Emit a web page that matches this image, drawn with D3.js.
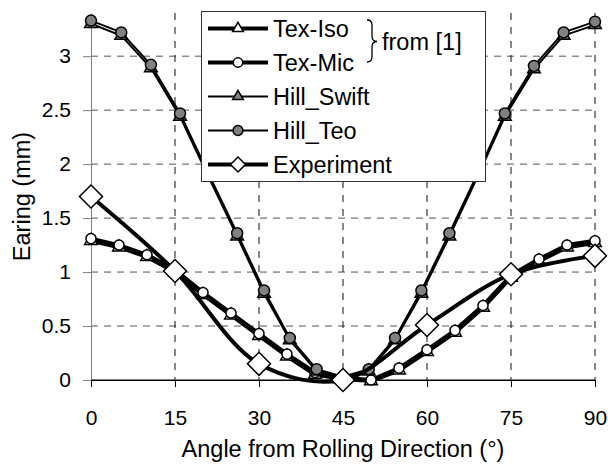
<!DOCTYPE html>
<html lang="en">
<head>
    <meta charset="UTF-8">
    <title>Earing vs Angle</title>
    <script src="https://d3js.org/d3.v7.min.js"></script>
    <style>
        body { margin: 0; background: #fff; font-family: "Liberation Sans", Arial, sans-serif; }
        svg { display: block; }
        text { font-family: "Liberation Sans", Arial, sans-serif; fill: #000; }
    </style>
</head>
<body>
    <svg width="608" height="464"></svg>
    <script>
        // data
        const texAngles = [0, 5, 10, 15, 20, 25, 30, 35, 40, 45, 50, 55, 60, 65, 70, 75, 80, 85, 90];
        const texIso = [1.29, 1.23, 1.14, 1.00, 0.79, 0.60, 0.41, 0.22, 0.05, 0.01, -0.01, 0.09, 0.26, 0.44, 0.67, 0.95, 1.10, 1.23, 1.27];
        const texMic = [1.31, 1.25, 1.16, 1.02, 0.81, 0.62, 0.43, 0.24, 0.07, 0.02, 0.00, 0.11, 0.28, 0.46, 0.69, 0.97, 1.12, 1.25, 1.29];

        const hillAngles = [0, 5.4, 10.7, 15.9, 21, 26.1, 30.9, 35.5, 40.3, 45, 49.6, 54.3, 59, 64, 69, 73.9, 79.1, 84.4, 90];
        const hillSwift = [3.30, 3.19, 2.89, 2.44, 1.88, 1.33, 0.80, 0.37, 0.08, 0.01, 0.08, 0.37, 0.80, 1.33, 1.88, 2.44, 2.88, 3.19, 3.29];
        const hillTeo = [3.33, 3.22, 2.92, 2.47, 1.91, 1.36, 0.83, 0.39, 0.10, 0.03, 0.10, 0.39, 0.83, 1.36, 1.91, 2.47, 2.91, 3.22, 3.32];

        const expAngles = [0, 15, 30, 45, 60, 75, 90];
        const experiment = [1.70, 1.01, 0.15, 0.00, 0.51, 0.98, 1.15];

        const xTicks = [0, 15, 30, 45, 60, 75, 90];
        const yTicks = [0, 0.5, 1, 1.5, 2, 2.5, 3];

        const svg = d3.select("svg");
        const plotLeft = 91, plotRight = 595, plotTop = 13, plotBottom = 380;

        const x = d3.scaleLinear().domain([0, 90]).range([plotLeft, plotRight]);
        const y = d3.scaleLinear().domain([0, 3.4]).range([plotBottom, plotTop]);

        // grid
        svg.append("g").selectAll("line").data(yTicks.filter(d => d > 0)).join("line")
            .attr("x1", plotLeft).attr("x2", plotRight)
            .attr("y1", d => y(d)).attr("y2", d => y(d))
            .attr("stroke", "#555").attr("stroke-dasharray", "7,6");
        svg.append("g").selectAll("line").data(xTicks.filter(d => d > 0)).join("line")
            .attr("x1", d => x(d)).attr("x2", d => x(d))
            .attr("y1", plotTop).attr("y2", plotBottom)
            .attr("stroke", "#111").attr("stroke-dasharray", "7,7");

        // axes
        const xAxis = svg.append("g").attr("transform", `translate(0,${plotBottom})`)
            .call(d3.axisBottom(x).tickValues(xTicks).tickSize(7).tickPadding(38).tickSizeOuter(0));
        xAxis.select(".domain").attr("stroke", "#000");
        xAxis.selectAll("text").style("font-size", "21px").attr("dy", 0);

        const yAxis = svg.append("g").attr("transform", `translate(${plotLeft},0)`)
            .call(d3.axisLeft(y).tickValues(yTicks).tickFormat(d3.format("~g"))
                .tickSize(8).tickPadding(12).tickSizeOuter(0));
        yAxis.select(".domain").attr("stroke", "#808080");
        yAxis.selectAll(".tick line").attr("stroke", "#808080");
        yAxis.selectAll("text").style("font-size", "21px");
        svg.append("line").attr("x1", plotLeft).attr("x2", plotRight)
            .attr("y1", plotBottom).attr("y2", plotBottom).attr("stroke", "#000");

        svg.append("text").attr("x", (plotLeft + plotRight) / 2).attr("y", 457)
            .attr("text-anchor", "middle").style("font-size", "23.5px")
            .text("Angle from Rolling Direction (°)");
        svg.append("text").attr("transform", `translate(30,${(plotTop + plotBottom) / 2}) rotate(-90)`)
            .attr("text-anchor", "middle").style("font-size", "23.5px")
            .text("Earing (mm)");

        // series
        const straight = d3.line().x(d => x(d[0])).y(d => y(d[1]));
        const smooth = d3.line().x(d => x(d[0])).y(d => y(d[1])).curve(d3.curveCatmullRom);

        const series = [
            { name: "Tex-Iso", ax: texAngles, vals: texIso, width: 4, sym: d3.symbolTriangle, size: 70, fill: "#fff", lsize: 50, rot: 0 },
            { name: "Tex-Mic", ax: texAngles, vals: texMic, width: 4, sym: d3.symbolCircle, size: 80, fill: "#fff", lsize: 70, rot: 0 },
            { name: "Hill_Swift", ax: hillAngles, vals: hillSwift, width: 2, sym: d3.symbolTriangle, size: 70, fill: "#808080", lsize: 50, rot: 0 },
            { name: "Hill_Teo", ax: hillAngles, vals: hillTeo, width: 2, sym: d3.symbolCircle, size: 95, fill: "#808080", lsize: 75, rot: 0 },
            { name: "Experiment", ax: expAngles, vals: experiment, width: 4, sym: d3.symbolSquare, size: 265, fill: "#fff", lsize: 112, rot: 45, smooth: true }
        ];

        series.forEach(s => {
            const pts = s.ax.map((a, i) => [a, s.vals[i]]);
            svg.append("path").datum(pts)
                .attr("d", s.smooth ? smooth : straight)
                .attr("fill", "none").attr("stroke", "#000")
                .attr("stroke-width", s.width).attr("stroke-linejoin", "round");
            svg.append("g").selectAll("path").data(pts).join("path")
                .attr("d", d3.symbol().type(s.sym).size(s.size))
                .attr("transform", d => `translate(${x(d[0])},${y(d[1])}) rotate(${s.rot})`)
                .attr("fill", s.fill).attr("stroke", "#000").attr("stroke-width", 1.5);
        });

        // legend
        const lg = svg.append("g");
        lg.append("rect").attr("x", 201.5).attr("y", 11.5).attr("width", 284).attr("height", 170)
            .attr("fill", "#fff").attr("stroke", "#333");
        series.forEach((s, i) => {
            const cy = 28.5 + i * 34;
            lg.append("line").attr("x1", 208).attr("x2", 268).attr("y1", cy).attr("y2", cy)
                .attr("stroke", "#000").attr("stroke-width", s.width);
            lg.append("path").attr("d", d3.symbol().type(s.sym).size(s.lsize))
                .attr("transform", `translate(238,${cy}) rotate(${s.rot})`)
                .attr("fill", s.fill).attr("stroke", "#000").attr("stroke-width", 1.5);
            lg.append("text").attr("x", 273).attr("y", cy + 8.5)
                .style("font-size", "23.5px").text(s.name);
        });
        lg.append("path")
            .attr("d", "M367,20 Q372,20 372,25 L372,36 Q372,41.5 377,41.5 Q372,41.5 372,47 L372,57 Q372,62 367,62")
            .attr("fill", "none").attr("stroke", "#000").attr("stroke-width", 1.3);
        lg.append("text").attr("x", 382).attr("y", 50).style("font-size", "23.5px").text("from [1]");
    </script>
</body>
</html>
